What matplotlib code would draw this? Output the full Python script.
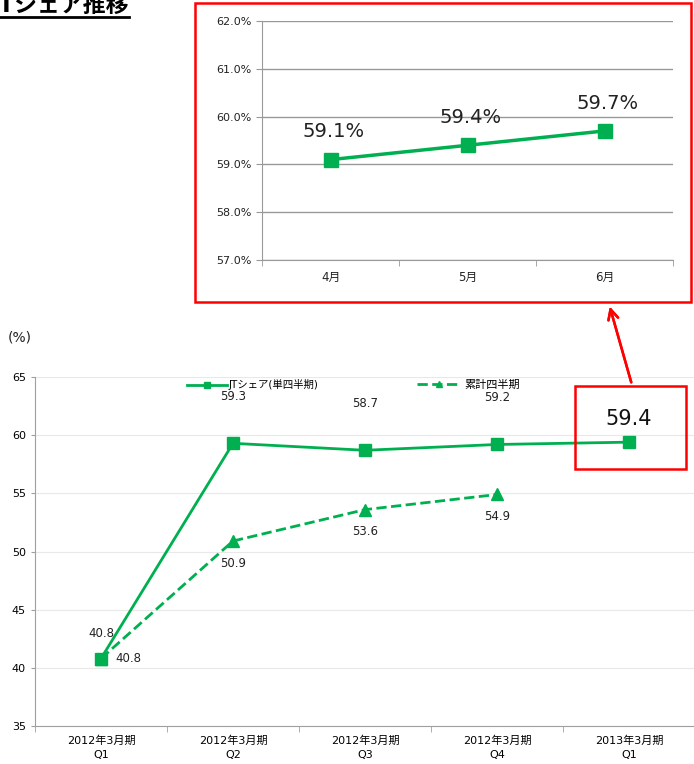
import matplotlib.pyplot as plt
from matplotlib.lines import Line2D
from matplotlib.patches import Rectangle

plt.rcParams['font.family'] = ['DejaVu Sans', 'Noto Sans CJK JP']

# main chart data
quarters = ['2012年3月期\nQ1', '2012年3月期\nQ2', '2012年3月期\nQ3', '2012年3月期\nQ4', '2013年3月期\nQ1']
jt_share = [40.8, 59.3, 58.7, 59.2, 59.4]
cumulative = [40.8, 50.9, 53.6, 54.9]

# inset data
months = ['4月', '5月', '6月']
monthly_share = [59.1, 59.4, 59.7]

green = '#00B050'
W, H = 694, 764

fig = plt.figure(figsize=(W / 100, H / 100), dpi=100)


def box(x0, y0, x1, y1):
    # pixel box (top-left origin) -> figure fraction rect
    return [x0 / W, 1 - y1 / H, (x1 - x0) / W, (y1 - y0) / H]


# ---------- main chart ----------
ax = fig.add_axes(box(35, 377, 695, 726))
xs = list(range(len(jt_share)))
ax.plot(xs, jt_share, color=green, lw=2, marker='s', ms=8.5, zorder=3)
ax.plot(range(len(cumulative)), cumulative, color=green, lw=2, ls='--', marker='^', ms=8.5, zorder=3)
ax.set_xlim(-0.5, 4.5)
ax.set_ylim(35, 65)
ax.set_yticks(range(35, 66, 5))
ax.set_xticks(xs)
ax.set_xticklabels(quarters, fontsize=8, linespacing=1.5)
ax.set_xticks([x + 0.5 for x in range(-1, 5)], minor=True)
ax.tick_params(axis='x', which='major', length=0, pad=7)
ax.tick_params(axis='x', which='minor', length=4, color='#a0a0a0')
ax.tick_params(axis='y', labelsize=8, length=3, color='#a0a0a0')
ax.grid(axis='y', color='#e8e8e8', lw=0.8)
ax.set_axisbelow(True)
for s in ['top', 'right']:
    ax.spines[s].set_visible(False)
for s in ['left', 'bottom']:
    ax.spines[s].set_color('#a0a0a0')

for i, v in enumerate(jt_share[:4]):
    dy = 18 if i == 0 else 34
    ax.annotate(f'{v}', (i, v), xytext=(0, dy), textcoords='offset points',
                ha='center', va='center', fontsize=8.5, color='#222222')
ax.annotate(f'{jt_share[4]}', (4, jt_share[4]), xytext=(0, 17), textcoords='offset points',
            ha='center', va='center', fontsize=15, color='#111111')

for i, v in enumerate(cumulative):
    if i == 0:
        ax.annotate(f'{v}', (i, v), xytext=(20, 0), textcoords='offset points',
                    ha='center', va='center', fontsize=8.5, color='#222222')
    else:
        ax.annotate(f'{v}', (i, v), xytext=(0, -16), textcoords='offset points',
                    ha='center', va='center', fontsize=8.5, color='#222222')

handles = [
    Line2D([], [], color=green, lw=2, marker='s', ms=5),
    Line2D([], [], color=green, lw=2, ls='--', marker='^', ms=5),
]
fig.legend(handles[:1], ['JTシェア(単四半期)'], loc='center left', bbox_to_anchor=(183 / W, 1 - 385 / H),
           frameon=False, fontsize=7.5, handlelength=3.8, handletextpad=0.2, borderaxespad=0)
fig.legend(handles[1:], ['累計四半期'], loc='center left', bbox_to_anchor=(413 / W, 1 - 385 / H),
           frameon=False, fontsize=8, handlelength=3.8, handletextpad=0.4, borderaxespad=0)

fig.text(8 / W, 1 - 337 / H, '(%)', fontsize=10, va='center', color='#222222')

# red box around latest value
fig.add_artist(Rectangle((575 / W, 1 - 469 / H), 111 / W, 83 / H, transform=fig.transFigure,
                         fill=False, edgecolor='#ff0000', lw=1.8))

# ---------- inset ----------
ins = fig.add_axes(box(262, 21, 673, 260))
mx = list(range(len(monthly_share)))
ins.plot(mx, monthly_share, color=green, lw=2.5, marker='s', ms=10)
ins.set_xlim(-0.5, 2.5)
ins.set_ylim(57, 62)
ins.set_yticks(range(57, 63))
ins.set_yticklabels([f'{v:.1f}%' for v in range(57, 63)], fontsize=8, color='#222222')
ins.set_xticks(mx)
ins.set_xticklabels(months, fontsize=8.5, color='#222222')
ins.set_xticks([-0.5, 0.5, 1.5, 2.5], minor=True)
ins.tick_params(axis='x', which='major', length=0, pad=8)
ins.tick_params(axis='x', which='minor', length=4, color='#999999')
ins.tick_params(axis='y', length=4, color='#999999')
ins.grid(axis='y', color='#999999', lw=1)
ins.set_axisbelow(True)
for s in ['top', 'right']:
    ins.spines[s].set_visible(False)
for s in ['left', 'bottom']:
    ins.spines[s].set_color('#999999')
for i, v in enumerate(monthly_share):
    ins.annotate(f'{v}%', (i, v), xytext=(2, 20), textcoords='offset points',
                 ha='center', va='center', fontsize=14, color='#222222')

fig.add_artist(Rectangle((195 / W, 1 - 302 / H), 496 / W, 299 / H, transform=fig.transFigure,
                         fill=False, edgecolor='#ff0000', lw=1.8))

# arrow from small box to inset
fig.add_artist(plt.annotate('', xy=(609 / W, 1 - 304 / H), xytext=(632 / W, 1 - 385 / H),
                            xycoords='figure fraction', textcoords='figure fraction',
                            arrowprops=dict(arrowstyle='->', color='#ff0000', lw=1.8,
                                            mutation_scale=18)))

# title, cut off at the page edge like the source
fig.text(129 / W, 1 - 5 / H, 'JTシェア推移', fontsize=16.5, fontweight='bold', va='center', ha='right')
fig.add_artist(Line2D([0, 129 / W], [1 - 17 / H, 1 - 17 / H], transform=fig.transFigure,
                      color='black', lw=2))

fig.savefig('out.png', dpi=100)
